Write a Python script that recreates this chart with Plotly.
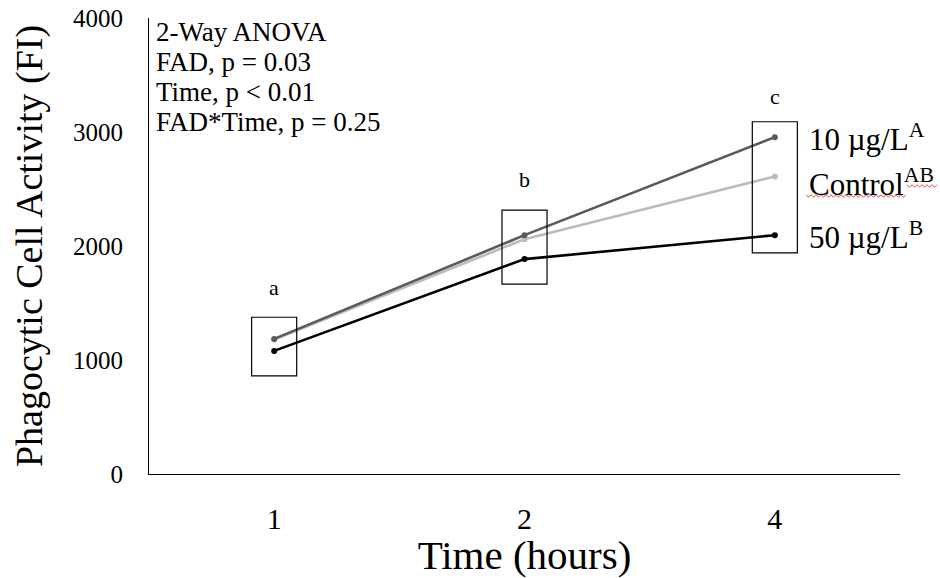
import plotly.graph_objects as go

# Time points (hours) shown as categories
hours = ["1", "2", "4"]

# Mean phagocytic cell activity (FI) per treatment
control = [1180, 2060, 2610]
ug10 = [1185, 2095, 2955]
ug50 = [1080, 1885, 2095]

series_names = ["Control", "10 µg/L", "50 µg/L"]
series_sup = ["AB", "A", "B"]
series_colors = ["#bcbcbc", "#5a5a5a", "#000000"]
label_shift = [-6, 0, 0]

# Time-effect groups (post-hoc letters) and the boxes that enclose each time point
time_letters = ["a", "b", "c"]
box_low = [860, 1665, 1940]
box_high = [1375, 2315, 3090]
letter_y = [1640, 2580, 3310]

anova_lines = [
    "2-Way ANOVA",
    "FAD, p = 0.03",
    "Time, p < 0.01",
    "FAD*Time, p = 0.25",
]

FONT = "Liberation Serif"
ML, MR, MT, MB = 149, 40, 18, 104
W, H = 940, 578
PLOT_W = W - ML - MR
PLOT_H = H - MT - MB


def paper_xy(px, py):
    """Convert page pixel position to paper coordinates."""
    return (px - ML) / PLOT_W, (H - MB - py) / PLOT_H


def squiggle(x0, x1, y, amp=1.3, step=2.5):
    """Wavy spell-check style underline as an SVG path in paper units."""
    pts = []
    x, k = x0, 0
    while x <= x1:
        pts.append(paper_xy(x, y + (amp if k % 2 else -amp)))
        x += step
        k += 1
    return "M " + " L ".join(f"{a:.5f},{b:.5f}" for a, b in pts)


fig = go.Figure()

for name, vals, color in zip(series_names, [control, ug10, ug50], series_colors):
    fig.add_trace(go.Scatter(
        x=hours, y=vals, mode="lines+markers", name=name,
        line=dict(color=color, width=2.6),
        marker=dict(color=color, size=6),
        showlegend=False,
    ))

# End-of-line series labels (category positions given by index)
last = len(hours) - 1
for name, sup, vals, shift in zip(series_names, series_sup, [control, ug10, ug50], label_shift):
    fig.add_annotation(
        x=last, y=vals[-1], xref="x", yref="y",
        text=f"{name}<sup>{sup}</sup>", showarrow=False,
        xanchor="left", yanchor="middle", xshift=32, yshift=shift,
        font=dict(family=FONT, size=31, color="#000000"),
    )

# Red wavy underline beneath the "Control" label
fig.add_shape(type="path", xref="paper", yref="paper",
              path=squiggle(806, 906, 196), line=dict(color="#e04a4a", width=1))
fig.add_shape(type="path", xref="paper", yref="paper",
              path=squiggle(907, 937, 186), line=dict(color="#e04a4a", width=1))

# Boxes and letters for each time point
for i, (lo, hi, letter, ly) in enumerate(zip(box_low, box_high, time_letters, letter_y)):
    fig.add_shape(
        type="rect", xref="x", yref="y",
        x0=i - 0.09, x1=i + 0.09, y0=lo, y1=hi,
        line=dict(color="#000000", width=1.2), fillcolor="rgba(0,0,0,0)",
    )
    fig.add_annotation(
        x=i, y=ly, xref="x", yref="y", text=letter, showarrow=False,
        xanchor="center", yanchor="middle",
        font=dict(family=FONT, size=22, color="#000000"),
    )

# ANOVA summary block, one line per annotation for tight line spacing
for k, line in enumerate(anova_lines):
    fig.add_annotation(
        x=0.006, y=1 - (14 + 30 * k) / PLOT_H, xref="paper", yref="paper",
        text=line, showarrow=False, align="left",
        xanchor="left", yanchor="middle",
        font=dict(family=FONT, size=27, color="#000000"),
    )

fig.update_xaxes(
    type="category", range=[-0.5, 2.5],
    showline=True, linecolor="#000000", linewidth=1.2,
    showgrid=False, zeroline=False, ticks="",
    ticklabelstandoff=18, automargin=False,
    tickfont=dict(family=FONT, size=30, color="#000000"),
    title=dict(text="Time (hours)", standoff=14,
               font=dict(family=FONT, size=41, color="#000000")),
)
fig.update_yaxes(
    range=[0, 4000], tickvals=[0, 1000, 2000, 3000, 4000],
    showline=True, linecolor="#000000", linewidth=1.2,
    showgrid=False, zeroline=False, ticks="",
    ticklabelstandoff=20, automargin=False,
    tickfont=dict(family=FONT, size=25, color="#000000"),
    title=dict(text="Phagocytic Cell Activity (FI)", standoff=18,
               font=dict(family=FONT, size=38, color="#000000")),
)

fig.update_layout(
    width=W, height=H,
    margin=dict(l=ML, r=MR, t=MT, b=MB, autoexpand=False),
    plot_bgcolor="#ffffff", paper_bgcolor="#ffffff",
)

fig.write_html("out.html")
